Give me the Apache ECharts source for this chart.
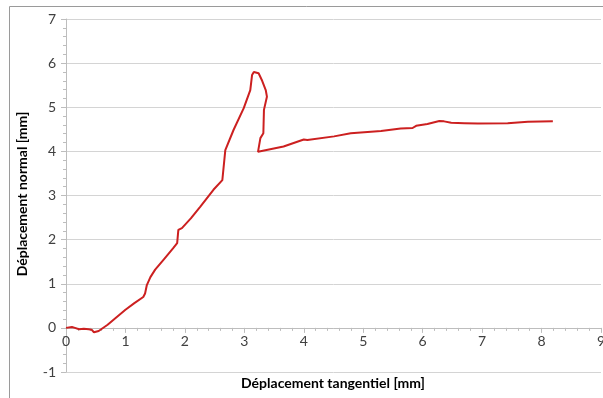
<!DOCTYPE html>
<html>
<head>
<meta charset="utf-8">
<script src="https://cdn.jsdelivr.net/npm/echarts@6/dist/echarts.min.js"></script>
<style>html,body{margin:0;padding:0;background:#fff;}#c{width:603px;height:398px;}</style>
</head>
<body>
<div id="c"></div>
<script>
const xLabel = 'Déplacement tangentiel [mm]';
const yLabel = 'Déplacement normal [mm]';
const tangentiel = [0, 0.1, 0.15, 0.22, 0.3, 0.38, 0.43, 0.47, 0.55, 0.7, 0.85, 1.0, 1.15, 1.3, 1.33, 1.36, 1.42, 1.5, 1.65, 1.8, 1.87, 1.89, 1.95, 2.1, 2.26, 2.48, 2.63, 2.68, 2.71, 2.82, 2.99, 3.10, 3.13, 3.16, 3.19, 3.24, 3.30, 3.36, 3.38, 3.33, 3.32, 3.27, 3.23, 3.66, 4.0, 4.06, 4.51, 4.79, 5.30, 5.63, 5.83, 5.89, 6.08, 6.28, 6.36, 6.48, 6.70, 6.93, 7.43, 7.77, 8.19];
const normal = [0, 0.02, 0.0, -0.03, -0.02, -0.03, -0.04, -0.1, -0.07, 0.07, 0.24, 0.41, 0.56, 0.70, 0.78, 0.97, 1.15, 1.32, 1.56, 1.80, 1.92, 2.22, 2.26, 2.48, 2.75, 3.13, 3.35, 4.03, 4.07, 4.49, 4.98, 5.39, 5.73, 5.80, 5.84, 5.77, 5.60, 5.39, 5.24, 4.94, 4.41, 4.30, 3.99, 4.11, 4.27, 4.26, 4.34, 4.41, 4.46, 4.52, 4.53, 4.58, 4.62, 4.69, 4.68, 4.65, 4.64, 4.63, 4.64, 4.67, 4.68];
const xTicks = [0, 9, 1];
const yTicks = [-1, 7, 1];

const pts = tangentiel.map((x, i) => [x, normal[i]]);
const font = 'Lato, "Open Sans", sans-serif';
const gridTop = 19, gridBottom = 26, H = 398;
const plotH = H - gridTop - gridBottom;
const zeroOffset = -plotH * (0 - yTicks[0]) / (yTicks[1] - yTicks[0]);
const chart = echarts.init(document.getElementById('c'));
chart.setOption({
  animation: false,
  grid: {left: 66, top: gridTop, right: 2, bottom: gridBottom, containLabel: false, outerBoundsMode: 'none'},
  xAxis: {
    type: 'value', min: xTicks[0], max: xTicks[1], interval: xTicks[2],
    position: 'bottom', offset: zeroOffset,
    axisLine: {show: true, onZero: false, lineStyle: {color: '#bdbdbd', width: 1}},
    axisTick: {show: true, length: 5, lineStyle: {color: '#bdbdbd'}},
    minorTick: {show: true, splitNumber: 5, length: 3, lineStyle: {color: '#bdbdbd'}},
    splitLine: {show: false},
    axisLabel: {color: '#404040', fontSize: 14, fontFamily: font, margin: 7}
  },
  yAxis: {
    type: 'value', min: yTicks[0], max: yTicks[1], interval: yTicks[2],
    axisLine: {show: true, lineStyle: {color: '#bdbdbd', width: 1}},
    axisTick: {show: true, length: 5, lineStyle: {color: '#bdbdbd'}},
    minorTick: {show: true, splitNumber: 5, length: 3, lineStyle: {color: '#bdbdbd'}},
    splitLine: {show: true, lineStyle: {color: '#d4d4d4', width: 1}},
    axisLabel: {color: '#404040', fontSize: 14, fontFamily: font, margin: 10}
  },
  graphic: [
    {type: 'rect', shape: {x: 9.5, y: 6.5, width: 620, height: 420}, style: {fill: 'none', stroke: '#9a9a9a', lineWidth: 1}, silent: true},
    {type: 'text', x: 22, y: 194, rotation: Math.PI / 2, style: {text: yLabel, font: 'bold 14px ' + font, fill: '#000', textAlign: 'center', textVerticalAlign: 'middle'}},
    {type: 'text', x: 333, y: 383, style: {text: xLabel, font: 'bold 14px ' + font, fill: '#000', textAlign: 'center', textVerticalAlign: 'middle'}}
  ],
  series: [{
    type: 'line', data: pts, showSymbol: false, smooth: false,
    lineStyle: {color: '#cc2020', width: 2}
  }]
});
</script>
</body>
</html>
